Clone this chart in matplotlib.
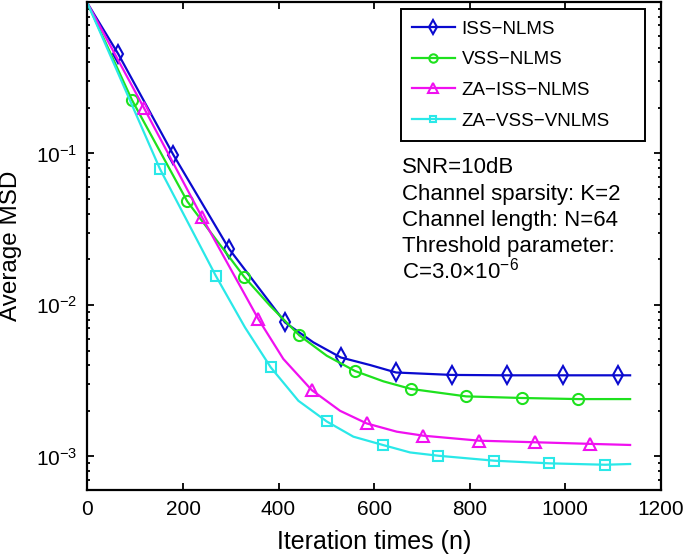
import matplotlib
matplotlib.use("Agg")
import matplotlib.pyplot as plt
from matplotlib.ticker import LogLocator, NullFormatter

plt.rcParams['font.family'] = ['Liberation Sans', 'DejaVu Sans']
plt.rcParams['mathtext.default'] = 'regular'

# ---- data ----
iss_x = [0, 64.5, 179.7, 296.6, 413.6, 472.9, 530.2, 591.6, 646, 762.7, 879, 995.2, 1111.6, 1136]
iss_y = [0.98, 0.453, 0.098, 0.0234, 0.00766, 0.00566, 0.0045, 0.00401, 0.00358, 0.00345,
         0.00343, 0.00343, 0.00343, 0.00343]
iss_marks = [1, 2, 3, 4, 6, 8, 9, 10, 11, 12]

vss_x = [0, 93.2, 209, 328.4, 382.2, 443.6, 500.9, 560.2, 619.5, 676.9, 792.7, 909.3, 1027.8, 1136]
vss_y = [0.98, 0.225, 0.0482, 0.01528, 0.00988, 0.00629, 0.00462, 0.00366, 0.00313, 0.00279,
         0.00249, 0.00243, 0.00239, 0.00239]
vss_marks = [1, 2, 3, 5, 7, 9, 10, 11, 12]

zaiss_x = [0, 118.3, 239.2, 357.7, 410, 469.5, 528.8, 584.7, 647.5, 703.3, 820, 937.2, 1052.4, 1136]
zaiss_y = [0.98, 0.1994, 0.0382, 0.00807, 0.0044, 0.00274, 0.0020, 0.00165, 0.001456, 0.00137,
           0.00127, 0.00124, 0.00121, 0.00119]
zaiss_marks = [1, 2, 3, 5, 7, 9, 10, 11, 12]

zavss_x = [0, 151.8, 268.5, 329.8, 383.7, 441.5, 501, 556.6, 618.2, 675.4, 734.7, 851.3, 967.1,
           1083.8, 1136]
zavss_y = [0.98, 0.0789, 0.01559, 0.0071, 0.00387, 0.00233, 0.0017, 0.00135, 0.00119, 0.001062,
           0.00101, 0.000937, 0.0009, 0.000881, 0.000891]
zavss_marks = [1, 2, 4, 6, 8, 10, 11, 12, 13]

labels = ['ISS\u2212NLMS', 'VSS\u2212NLMS', 'ZA\u2212ISS\u2212NLMS', 'ZA\u2212VSS\u2212VNLMS']
notes = ['SNR=10dB', 'Channel sparsity: K=2', 'Channel length: N=64',
         'Threshold parameter:', 'C=3.0$\\times$10$^{-6}$']

series = [
    (iss_x, iss_y, iss_marks, '#0a0acf', 'd', 9),
    (vss_x, vss_y, vss_marks, '#1ee11e', 'o', 8),
    (zaiss_x, zaiss_y, zaiss_marks, '#f010f0', '^', 9),
    (zavss_x, zavss_y, zavss_marks, '#2ae8e8', 's', 6.5),
]

fig = plt.figure(figsize=(6.85, 5.54), dpi=100)
ax = fig.add_axes([0.1277, 0.1155, 0.8368, 0.881])

for (x, y, mk, col, m, ms), lab in zip(series, labels):
    ax.plot(x, y, color=col, lw=1.6, marker=m, ms=ms, markevery=mk,
            mfc='none', mec=col, mew=1.5, label=lab)

ax.set_yscale('log')
ax.set_xlim(0, 1200)
ax.set_ylim(6e-4, 1)
ax.set_xticks([0, 200, 400, 600, 800, 1000, 1200])
ax.yaxis.set_minor_locator(LogLocator(base=10, subs=range(2, 10), numticks=10))
ax.yaxis.set_minor_formatter(NullFormatter())
ax.set_yticks([1e-3, 1e-2, 1e-1])
ax.tick_params(which='both', direction='in', top=True, right=True, labelsize=15, width=1.3)
ax.tick_params(which='major', length=5, pad=7)
ax.tick_params(which='minor', length=2.5)
for s in ax.spines.values():
    s.set_linewidth(1.6)

ax.set_xlabel('Iteration times (n)', fontsize=18)
ax.xaxis.set_label_coords(0.5, -0.082)
ax.xaxis.label.set_va('top')
ax.set_ylabel('Average MSD', fontsize=17.5)
ax.yaxis.set_label_coords(-0.133, 0.5)
ax.yaxis.label.set_va('center')

leg = ax.legend(loc='upper left', bbox_to_anchor=(0.5464, 0.7207, 0.4262, 0.2643),
                mode='expand', borderaxespad=0,
                fontsize=13.5, fancybox=False, edgecolor='black', framealpha=1,
                handlelength=2.3, handletextpad=0.35, labelspacing=0.72,
                borderpad=0.6, markerscale=0.75)
leg.get_frame().set_linewidth(1.4)

for i, t in enumerate(notes):
    ax.text(0.548, 0.649 - i * 0.0539, t, transform=ax.transAxes,
            fontsize=16, va='baseline', ha='left')

fig.savefig('out.png', dpi=100)
